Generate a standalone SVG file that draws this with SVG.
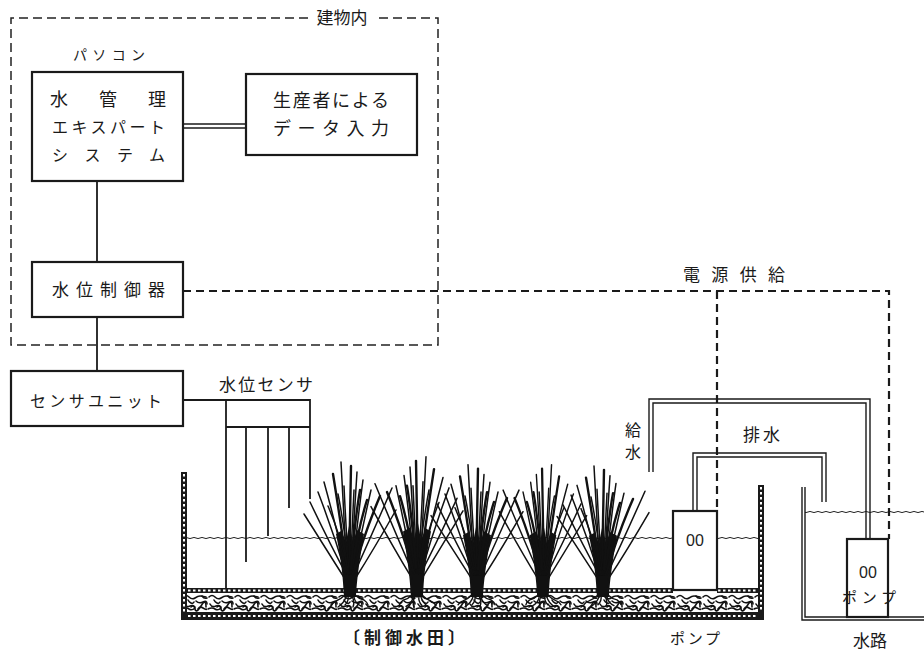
<svg xmlns="http://www.w3.org/2000/svg" xmlns:xlink="http://www.w3.org/1999/xlink" width="924" height="651" viewBox="0 0 924 651">
  <style>
    .box { fill: #fff; stroke: #1a1a1a; stroke-width: 2.2; }
    .ln { fill: none; stroke: #1a1a1a; stroke-width: 1.8; }
    .pipe { fill: none; stroke: #1a1a1a; stroke-width: 1.4; }
    .bld { fill: none; stroke: #222; stroke-width: 1.5; stroke-dasharray: 9 5; }
    .pwr { fill: none; stroke: #1a1a1a; stroke-width: 2.2; stroke-dasharray: 8 5; }
    .jp { font-family: "Noto Sans CJK JP", "Noto Sans", sans-serif; fill: #1a1a1a; font-weight: 400; }
    .jp.heavy { font-weight: 700; }
    .num { font-family: "Liberation Sans", Arial, sans-serif; fill: #222; }
    .leaf { fill: none; stroke: #111; stroke-width: 1.5; stroke-linecap: round; }
    .leafb { fill: none; stroke: #111; stroke-width: 2.4; stroke-linecap: round; }
    .hatch { fill: #1a1a1a; }
    .dash-w { fill: none; stroke: #fff; stroke-width: 2; stroke-dasharray: 2.5 2.5; }
  </style>
  <defs>
    <pattern id="soil" x="0" y="593" width="26" height="19" patternUnits="userSpaceOnUse">
      <g fill="none" stroke="#111" stroke-width="1.6" stroke-linecap="round">
        <path d="M1,4 q3,-3 6,0 t6,1 t5,-2 t6,1"/>
        <path d="M2,11 q2,4 6,2 t5,3 t6,-3 t5,1"/>
        <path d="M0,16 q4,-2 7,0 t6,-1"/>
        <path d="M14,8 q3,3 7,1 t4,2"/>
        <path d="M16,16 q2,-3 5,-1 t4,1"/>
        <path d="M6,7 q1,2 3,3 t3,-1"/>
        <path d="M20,3 q2,3 5,2"/>
        <path d="M9,14 q2,-2 4,0"/>
      </g>
    </pattern>
    <pattern id="wave1" x="0" y="536" width="8" height="4" patternUnits="userSpaceOnUse">
      <path d="M0,2 Q2,0.9 4,2 T8,2" fill="none" stroke="#222" stroke-width="1"/>
    </pattern>
    <pattern id="wave2" x="0" y="510" width="8" height="4" patternUnits="userSpaceOnUse">
      <path d="M0,2 Q2,0.9 4,2 T8,2" fill="none" stroke="#222" stroke-width="1"/>
    </pattern>
    <!-- one rice hill, base at origin -->
    <g id="rice">
      <path d="M-6,3 C-7,-15 -8,-30 -14,-60 L-9,-63 L-4,-52 L-1,-68 L3,-52 L7,-64 L14,-60 C9,-30 7,-15 6,3 Z" fill="#111"/>
      <path class="leaf" d="M-3,-20 Q-6,-80 -9,-132"/>
      <path class="leafb" d="M-1,-20 Q0,-80 1,-128"/>
      <path class="leaf" d="M1,-20 Q4,-75 7,-122"/>
      <path class="leaf" d="M2,-20 Q7,-70 13,-114"/>
      <path class="leafb" d="M-2,-20 Q-9,-70 -17,-120"/>
      <path class="leaf" d="M-3,-20 Q-13,-65 -26,-112"/>
      <path class="leaf" d="M3,-20 Q11,-60 21,-104"/>
      <path class="leafb" d="M3,-20 Q14,-60 30,-98"/>
      <path class="leaf" d="M-4,-20 Q-16,-60 -32,-102"/>
      <path class="leaf" d="M4,-20 Q20,-55 42,-106"/>
      <path class="leaf" d="M-4,-20 Q-20,-50 -40,-92"/>
      <path class="leaf" d="M-5,-15 Q-24,-45 -46,-80"/>
      <path class="leaf" d="M5,-15 Q24,-45 46,-84"/>
      <path class="leaf" d="M0,-20 Q2,-65 4,-104"/>
      <path class="leaf" d="M-1,-20 Q-4,-65 -6,-108"/>
      <path class="leafb" d="M2,-25 Q8,-65 17,-94"/>
      <path class="leaf" d="M-2,-25 Q-10,-60 -22,-88"/>
      <path class="leaf" d="M-1,-25 Q-6,-70 -12,-100"/>
      <path class="leafb" d="M1,-25 Q5,-75 10,-104"/>
      <g fill="none" stroke="#111" stroke-width="1.4" stroke-linecap="round">
        <path d="M-5,1 q-4,4 -9,6 q-3,1 -5,4"/>
        <path d="M-2,2 q1,5 -3,9"/>
        <path d="M2,2 q3,6 1,11"/>
        <path d="M5,1 q4,4 9,5 q3,2 4,5"/>
        <path d="M-4,3 q-2,6 -8,10"/>
        <path d="M4,3 q1,6 7,9"/>
      </g>
    </g>
  </defs>

  <rect width="924" height="651" fill="#fff"/>

  <!-- building boundary -->
  <g id="building">
    <path class="bld" d="M308,18 H11 V345 H438 V18 H377"/>
    <text class="jp" x="342" y="24" font-size="17" text-anchor="middle">建物内</text>
  </g>

  <!-- paddy field structure -->
  <g id="paddy">
    <rect x="187" y="593" width="571" height="19" fill="url(#soil)"/>
    <rect class="hatch" x="181" y="588" width="492" height="5"/>
    <rect class="hatch" x="717" y="588" width="47" height="5"/>
    <line class="dash-w" x1="188" y1="590.5" x2="672" y2="590.5"/>
    <line class="dash-w" x1="718" y1="590.5" x2="757" y2="590.5"/>
    <rect class="hatch" x="181" y="612" width="583" height="8"/>
    <line class="dash-w" x1="183" y1="616" x2="762" y2="616"/>
    <rect class="hatch" x="181" y="472" width="6" height="148"/>
    <line class="dash-w" x1="184" y1="474" x2="184" y2="612"/>
    <rect class="hatch" x="758" y="485" width="6" height="135"/>
    <line class="dash-w" x1="761" y1="487" x2="761" y2="612"/>
    <rect x="187" y="536" width="486" height="4" fill="url(#wave1)"/>
    <rect x="717" y="536" width="41" height="4" fill="url(#wave1)"/>
    <text class="jp heavy" x="343" y="644" font-size="17" letter-spacing="4">〔制御水田〕</text>
  </g>

  <!-- rice plants -->
  <g id="plants">
    <use xlink:href="#rice" transform="translate(350,594)"/>
    <use xlink:href="#rice" transform="translate(417,594) scale(-1,1.04)"/>
    <use xlink:href="#rice" transform="translate(477,594) scale(1,0.98)"/>
    <use xlink:href="#rice" transform="translate(543,594) scale(-0.95,0.98)"/>
    <use xlink:href="#rice" transform="translate(603,594) scale(1,0.97)"/>
  </g>

  <!-- drainage channel -->
  <g id="channel">
    <rect x="805" y="510" width="119" height="4" fill="url(#wave2)"/>
    <path class="pipe" d="M802,487 V620 H924"/>
    <path class="pipe" d="M805,487 V617 H924"/>
    <text class="jp" x="870" y="647" font-size="17" text-anchor="middle">水路</text>
  </g>

  <!-- connectors -->
  <g id="connectors">
    <line class="pipe" x1="183" y1="124" x2="246" y2="124"/>
    <line class="pipe" x1="183" y1="128" x2="246" y2="128"/>
    <line class="ln" x1="97" y1="181" x2="97" y2="262"/>
    <line class="ln" x1="97" y1="317" x2="97" y2="371"/>
    <path class="ln" d="M183,400 H310 V499"/>
    <line class="ln" x1="226" y1="400" x2="226" y2="589"/>
    <line class="ln" x1="226" y1="427" x2="310" y2="427"/>
    <line class="ln" x1="246" y1="427" x2="246" y2="562"/>
    <line class="ln" x1="268" y1="427" x2="268" y2="536"/>
    <line class="ln" x1="289" y1="427" x2="289" y2="508"/>
    <path class="pwr" d="M183,291 H889 V539"/>
    <line class="pwr" x1="717" y1="291" x2="717" y2="511"/>
    <!-- supply pipe -->
    <path class="pipe" d="M649,472 V399 H870 V539"/>
    <path class="pipe" d="M653,472 V403 H866 V539"/>
    <!-- drain pipe -->
    <path class="pipe" d="M693,511 V453 H826 V502"/>
    <path class="pipe" d="M697,511 V457 H822 V502"/>
  </g>

  <!-- nodes -->
  <g id="pc-label">
    <text class="jp" x="73" y="60" font-size="14" textLength="72" lengthAdjust="spacing">パソコン</text>
  </g>
  <g id="expert-system">
    <rect class="box" x="32" y="72" width="151" height="109"/>
    <text class="jp" x="50" y="106" font-size="18" textLength="116" lengthAdjust="spacing">水管理</text>
    <text class="jp" x="52" y="133" font-size="16" textLength="113" lengthAdjust="spacing">エキスパート</text>
    <text class="jp" x="52" y="161" font-size="16" textLength="113" lengthAdjust="spacing">システム</text>
  </g>
  <g id="data-input">
    <rect class="box" x="246" y="74" width="171" height="81"/>
    <text class="jp" x="273" y="107" font-size="18" textLength="116" lengthAdjust="spacing">生産者による</text>
    <text class="jp" x="273" y="135" font-size="18" textLength="116" lengthAdjust="spacing">データ入力</text>
  </g>
  <g id="controller">
    <rect class="box" x="32" y="262" width="151" height="55"/>
    <text class="jp" x="52" y="296" font-size="17" textLength="113" lengthAdjust="spacing">水位制御器</text>
  </g>
  <g id="sensor-unit">
    <rect class="box" x="11" y="371" width="172" height="55"/>
    <text class="jp" x="30" y="407" font-size="16" textLength="132" lengthAdjust="spacing">センサユニット</text>
  </g>
  <g id="sensor-label">
    <text class="jp" x="219" y="391" font-size="17" textLength="94" lengthAdjust="spacing">水位センサ</text>
  </g>
  <g id="power-label">
    <text class="jp" x="683" y="281" font-size="17" textLength="102" lengthAdjust="spacing">電源供給</text>
  </g>
  <g id="supply-label">
    <text class="jp" x="633" y="436" font-size="16" text-anchor="middle">給</text>
    <text class="jp" x="633" y="458" font-size="16" text-anchor="middle">水</text>
  </g>
  <g id="drain-label">
    <text class="jp" x="743" y="441" font-size="17" textLength="37" lengthAdjust="spacing">排水</text>
  </g>
  <g id="pump-field">
    <rect class="box" x="673" y="511" width="44" height="79" stroke-width="1.6"/>
    <text class="num" x="695" y="546" font-size="16" text-anchor="middle">00</text>
    <text class="jp" x="695" y="644" font-size="15" text-anchor="middle" textLength="50" lengthAdjust="spacing">ポンプ</text>
  </g>
  <g id="pump-channel">
    <rect class="box" x="847" y="539" width="41" height="78" stroke-width="1.6"/>
    <text class="num" x="868" y="578" font-size="16" text-anchor="middle">00</text>
    <text class="jp" x="869" y="603" font-size="15" text-anchor="middle" textLength="54" lengthAdjust="spacing">ポンプ</text>
  </g>
</svg>
